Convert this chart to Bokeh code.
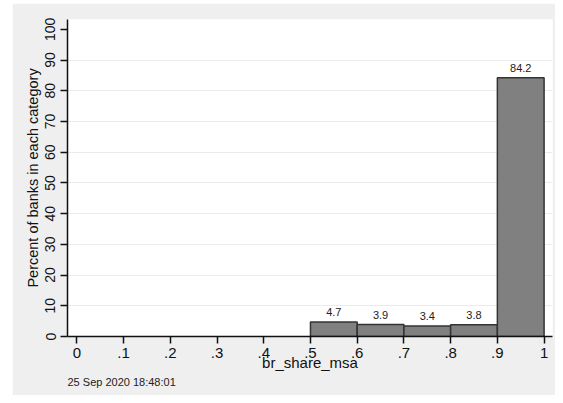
from bokeh.plotting import figure
from bokeh.models import FixedTicker, ColumnDataSource, Title, Range1d, Spacer
from bokeh.layouts import row, column
from bokeh.core.properties import value
from bokeh.embed import file_html
from bokeh.resources import INLINE

# data
bin_left = [0.5, 0.6, 0.7, 0.8, 0.9]
bin_width = 0.1
percent = [4.7, 3.9, 3.4, 3.8, 84.2]
pct_labels = ["4.7", "3.9", "3.4", "3.8", "84.2"]
x_ticks = [0, 0.1, 0.2, 0.3, 0.4, 0.5, 0.6, 0.7, 0.8, 0.9, 1.0]
x_tick_labels = ["0", ".1", ".2", ".3", ".4", ".5", ".6", ".7", ".8", ".9", "1"]
y_ticks = [0, 10, 20, 30, 40, 50, 60, 70, 80, 90, 100]
grid_ticks = [10, 20, 30, 40, 50, 60, 70, 80, 90]
x_title = "br_share_msa"
y_title = "Percent of banks in each category"
note = "25 Sep 2020 18:48:01"

FONT = "Liberation Sans"
BG = "#efefef"

src = ColumnDataSource(dict(
    left=bin_left,
    right=[b + bin_width for b in bin_left],
    mid=[b + bin_width / 2 for b in bin_left],
    top=percent,
    lab=pct_labels,
))

p = figure(width=543, height=392, output_backend="svg", toolbar_location=None,
           x_range=Range1d(-0.02, 1.018), y_range=Range1d(0, 103.2),
           min_border_left=55, min_border_right=3, min_border_top=16, min_border_bottom=59)
p.background_fill_color = "white"
p.border_fill_color = BG
p.outline_line_color = None

p.quad(left="left", right="right", bottom=0, top="top", source=src,
       fill_color="#808080", line_color="#333333", line_width=1.5)
p.text(x="mid", y="top", text="lab", source=src, text_align="center",
       text_baseline="bottom", y_offset=-6, text_font=value(FONT),
       text_font_size="11px", text_color="#222222")

# x axis
xa = p.xaxis[0]
xa.ticker = FixedTicker(ticks=x_ticks)
xa.major_label_overrides = {t: l for t, l in zip(x_ticks, x_tick_labels)}
xa.minor_tick_line_color = None
xa.major_tick_out = 7
xa.major_tick_in = 0
xa.axis_line_width = 1.5
xa.major_tick_line_width = 1.5
xa.axis_line_color = "#111111"
xa.major_tick_line_color = "#111111"
xa.major_label_text_font = FONT
xa.major_label_text_font_size = "15px"
xa.major_label_text_color = "#111111"
xa.major_label_standoff = 4
xa.axis_label = x_title
xa.axis_label_text_font = FONT
xa.axis_label_text_font_style = "normal"
xa.axis_label_text_font_size = "15px"
xa.axis_label_text_color = "#111111"
xa.axis_label_standoff = -7

# y axis
ya = p.yaxis[0]
ya.ticker = FixedTicker(ticks=y_ticks)
ya.minor_tick_line_color = None
ya.major_tick_out = 7
ya.major_tick_in = 0
ya.axis_line_width = 1.5
ya.major_tick_line_width = 1.5
ya.axis_line_color = "#111111"
ya.major_tick_line_color = "#111111"
ya.major_label_orientation = "vertical"
ya.major_label_text_font = FONT
ya.major_label_text_font_size = "14px"
ya.major_label_text_color = "#111111"
ya.major_label_standoff = 5
ya.axis_label = y_title
ya.axis_label_text_font = FONT
ya.axis_label_text_font_style = "normal"
ya.axis_label_text_font_size = "14.5px"
ya.axis_label_text_color = "#111111"
ya.axis_label_standoff = 2

p.xgrid.visible = False
p.ygrid.ticker = FixedTicker(ticks=grid_ticks)
p.ygrid.grid_line_color = "#ebebeb"
p.ygrid.grid_line_width = 1.2

p.add_layout(Title(text=note, align="left", text_font=FONT, text_font_size="11px",
                   text_font_style="normal", text_color="#222222", standoff=1), "below")

layout = row(Spacer(width=12, height=395), column(Spacer(width=543, height=3), p))

open("out.html", "w").write(file_html(layout, INLINE))
